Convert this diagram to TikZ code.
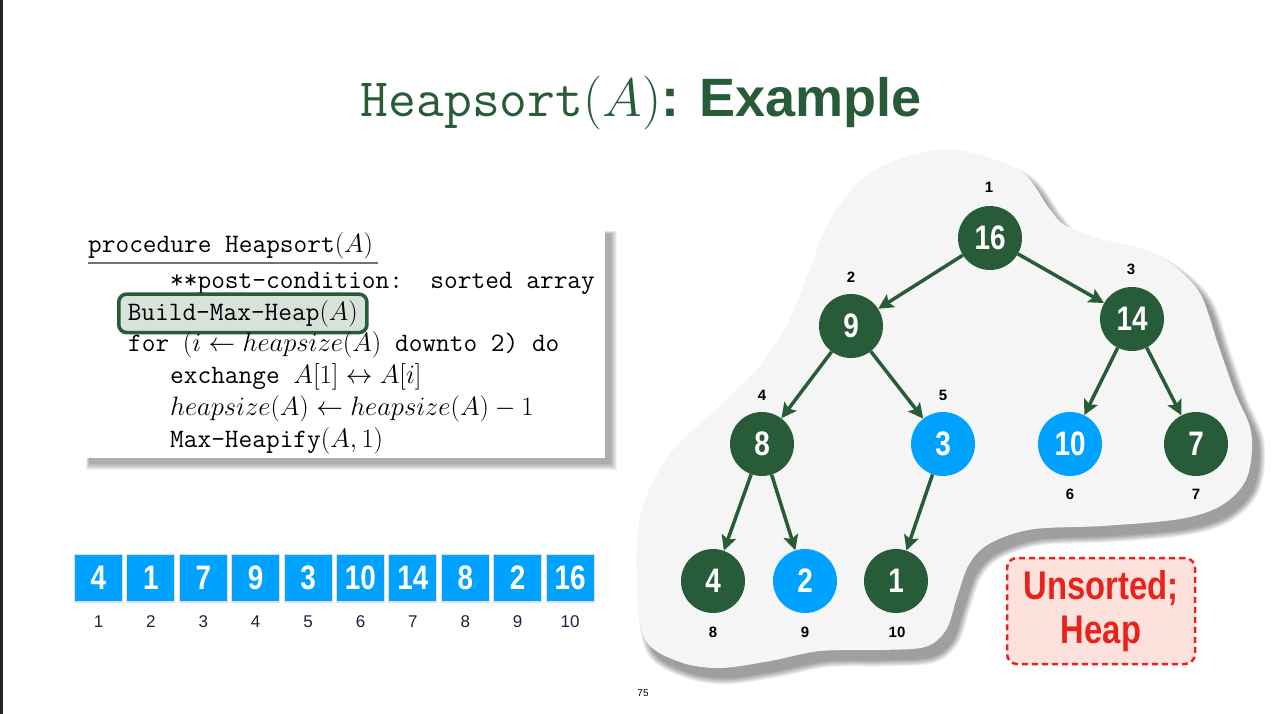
\RequirePackage{fix-cm}
\documentclass[tikz,border=0pt]{standalone}
\usepackage{fontspec}
\usetikzlibrary{arrows.meta}
\newfontfamily\helv{Liberation Sans}
\newfontfamily\cond[FakeStretch=0.82]{Liberation Sans}
\definecolor{hgreen}{HTML}{285C38}
\definecolor{hblue}{HTML}{00A2FF}
\definecolor{hred}{HTML}{E8231B}
\definecolor{hpink}{HTML}{FDE1DD}
\definecolor{blobgray}{HTML}{F5F5F5}
\definecolor{idxblue}{HTML}{1C2340}
\DeclareMathSizes{54}{54}{38}{27}
\DeclareMathSizes{26.6}{26.6}{18.6}{13.3}
\newcommand\blobshape[1]{%
  \path[#1] plot[smooth cycle, tension=0.55] coordinates {
    (956.7,150) (1019.8,170.7) (1049.3,208.6) (1066,225.9) (1104,239.7)
    (1146,250) (1175.6,267.2) (1200.8,294.8) (1217.6,343.1) (1234.5,391.4)
    (1251.3,432.8) (1247,477.6) (1221.9,505.2) (1179.8,519) (1104,525.9)
    (1032.5,529.3) (990.4,543.1) (969.3,563.8) (956.7,598.3) (946,630)
    (925,647) (880,650) (820,651) (770,661) (720,668) (680,662)
    (645.3,639.7) (636.8,581) (641,512) (670.5,453.4) (716.8,408.6)
    (758.9,367.2) (788.4,322.4) (809.4,270.7) (830.4,219) (864.1,177.6)
    (906.2,156.9)};}
\tikzset{
  heapnode/.style={circle, minimum size=64pt, inner sep=0pt, text=white,
    font=\cond\bfseries\fontsize{34}{34}\selectfont},
  greennode/.style={heapnode, fill=hgreen},
  bluenode/.style={heapnode, fill=hblue},
  idxlabel/.style={font=\helv\bfseries\fontsize{15}{15}\selectfont, text=black},
  cell/.style={rectangle, fill=hblue, minimum width=47pt, minimum height=46pt,
    inner sep=0pt, text=white, font=\cond\bfseries\fontsize{34}{34}\selectfont},
  cellidx/.style={font=\helv\fontsize{17}{17}\selectfont, text=idxblue},
  codeline/.style={anchor=base west, inner sep=0pt,
    font=\fontsize{26.6}{32}\selectfont\ttfamily},
  treearrow/.style={draw=hgreen, line width=3.5pt,
    -{Stealth[length=15pt, width=15pt, inset=3pt]}},
}
\begin{document}
\begin{tikzpicture}[x=1pt, y=-1pt]
\useasboundingbox (0,0) rectangle (1280,714);
\fill[white] (0,0) rectangle (1280,714);
\fill[black!85] (0,0) rectangle (3,714);

% title
\node[anchor=base, inner sep=0pt, text=hgreen] (title) at (641,117)
  {\fontsize{54}{60}\selectfont\ttfamily Heapsort$(A)$\helv\bfseries: Example};

% pseudocode panel with soft shadow
\foreach \k in {0,...,6}{
  \fill[black, opacity=0.05] (89-\k*0.5,234-\k*0.5) rectangle (611+\k,464+\k);
}
\fill[white] (85,230) rectangle (605,458);
\node[codeline] (l1) at (88,253) {procedure Heapsort$(A)$};
\draw[black!55, line width=1.5pt] (88,263) -- (378,263);
\node[codeline] (l2) at (170,288) {**post-condition:\ \ sorted array};
\node[codeline, draw=hgreen, line width=3.5pt, fill=hgreen!18!white,
  rounded corners=8pt, inner xsep=9pt, inner ysep=6pt] (l3) at (117,320)
  {Build-Max-Heap$(A)$};
\node[codeline] (l4) at (128,351) {for $(i \leftarrow heapsize(A)$ downto 2) do};
\node[codeline] (l5) at (170,383) {exchange $A[1] \leftrightarrow A[i]$};
\node[codeline] (l6) at (170,415) {$heapsize(A) \leftarrow heapsize(A) - 1$};
\node[codeline] (l7) at (170,447) {Max-Heapify$(A,1)$};

% array
\foreach \v [count=\i] in {4,1,7,9,3,10,14,8,2,16} {
  \fill[black, opacity=0.12] (98.5+\i*52.4-52.4-24.5,578-24) rectangle ++(49,49);
  \node[cell] (a\i) at (98.5+\i*52.4-52.4,578) {\v};
  \node[cellidx] (ai\i) at (98.5+\i*52.4-52.4,622) {\i};
}

% blob backdrop with soft shadow
\foreach \k in {0,...,7}{
  \begin{scope}[shift={(7,10)}, transparency group, opacity=0.055]
    \blobshape{draw=black, line width=1.8*\k pt+0.1pt, fill=black}
  \end{scope}
}
\blobshape{fill=blobgray}

% tree nodes
\node[greennode] (n1) at (990,238) {16};
\node[greennode] (n2) at (851,326) {9};
\node[greennode] (n3) at (1132,319) {14};
\node[greennode] (n4) at (762,444) {8};
\node[bluenode]  (n5) at (943,444) {3};
\node[bluenode]  (n6) at (1070,444) {10};
\node[greennode] (n7) at (1196,444) {7};
\node[greennode] (n8) at (713,581) {4};
\node[bluenode]  (n9) at (805,581) {2};
\node[greennode] (n10) at (896,581) {1};

% index labels
\node[idxlabel] (t1) at (989,187) {1};
\node[idxlabel] (t2) at (851,277) {2};
\node[idxlabel] (t3) at (1131,269) {3};
\node[idxlabel] (t4) at (762,395) {4};
\node[idxlabel] (t5) at (943,395) {5};
\node[idxlabel] (t6) at (1070,494) {6};
\node[idxlabel] (t7) at (1196,494) {7};
\node[idxlabel] (t8) at (713,632) {8};
\node[idxlabel] (t9) at (805,632) {9};
\node[idxlabel] (t10) at (897,632) {10};

% edges
\draw[treearrow] (n1) -- (n2);
\draw[treearrow] (n1) -- (n3);
\draw[treearrow] (n2) -- (n4);
\draw[treearrow] (n2) -- (n5);
\draw[treearrow] (n3) -- (n6);
\draw[treearrow] (n3) -- (n7);
\draw[treearrow] (n4) -- (n8);
\draw[treearrow] (n4) -- (n9);
\draw[treearrow] (n5) -- (n10);

% status tag
\node[draw=hred, fill=hpink, dash pattern=on 6pt off 4pt, line width=2.5pt,
  rounded corners=10pt, minimum width=188pt, minimum height=106pt,
  align=center, text=hred, inner sep=0pt,
  font=\cond\bfseries\fontsize{40}{44}\selectfont] (tag) at (1101,611)
  {Unsorted;\\Heap};

% page number
\node[font=\helv\fontsize{10}{10}\selectfont] (pg) at (643,693) {75};
\end{tikzpicture}
\end{document}
